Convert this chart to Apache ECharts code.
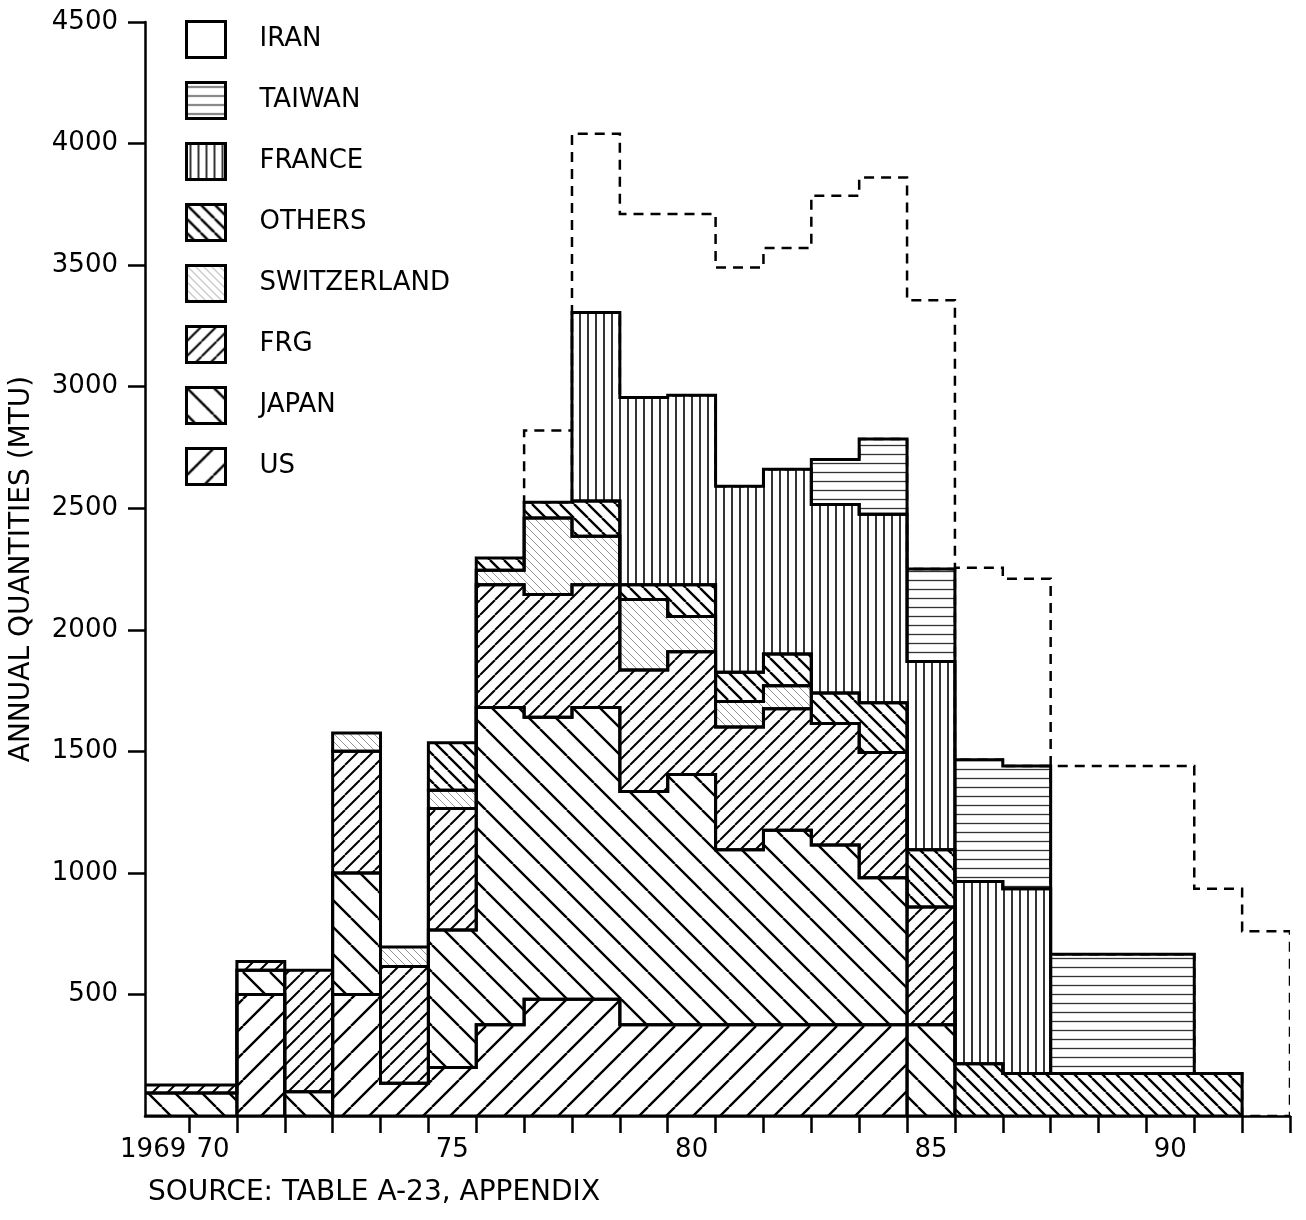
<!DOCTYPE html>
<html>
<head>
<meta charset="utf-8">
<script src="https://cdn.jsdelivr.net/npm/echarts@6/dist/echarts.min.js"></script>
<style>
  html, body { margin: 0; padding: 0; background: #fff; }
  #chart { width: 1306px; height: 1220px; }
</style>
</head>
<body>
<div id="chart"></div>
<script>
// Annual quantities (MTU) by supplier, one step per calendar year
const YEARS = [1969, 1970, 1971, 1972, 1973, 1974, 1975, 1976, 1977, 1978, 1979, 1980,
               1981, 1982, 1983, 1984, 1985, 1986, 1987, 1988, 1989, 1990, 1991, 1992];

const US          = [0, 0, 500, 0, 500, 135, 200, 375, 480, 480, 375, 375, 375, 375, 375, 375, 0, 0, 0, 0, 0, 0, 0, 0];
const JAPAN       = [95, 95, 100, 100, 500, 0, 565, 1305, 1160, 1200, 960, 1030, 720, 800, 740, 605, 375, 0, 0, 0, 0, 0, 0, 0];
const FRG         = [33, 33, 35, 500, 500, 480, 500, 505, 505, 505, 500, 505, 505, 500, 500, 515, 485, 0, 0, 0, 0, 0, 0, 0];
const SWITZERLAND = [0, 0, 0, 0, 75, 80, 75, 60, 315, 200, 290, 145, 105, 95, 0, 0, 0, 0, 0, 0, 0, 0, 0, 0];
const OTHERS      = [0, 0, 0, 0, 0, 0, 195, 50, 65, 145, 60, 130, 120, 130, 125, 205, 235, 215, 175, 175, 175, 175, 175, 0];
const FRANCE      = [0, 0, 0, 0, 0, 0, 0, 0, 0, 775, 770, 780, 765, 760, 775, 775, 775, 750, 760, 0, 0, 0, 0, 0];
const TAIWAN      = [0, 0, 0, 0, 0, 0, 0, 0, 0, 0, 0, 0, 0, 0, 185, 310, 380, 500, 505, 490, 490, 490, 0, 0];
const IRAN        = [0, 0, 0, 0, 0, 0, 0, 0, 295, 735, 755, 745, 900, 910, 1085, 1075, 1105, 790, 770, 775, 775, 775, 760, 760];

const X_TICKS = [1970, 1971, 1972, 1973, 1974, 1975, 1976, 1977, 1978, 1979, 1980, 1981,
                 1982, 1983, 1984, 1985, 1986, 1987, 1988, 1989, 1990, 1991, 1992, 1993];
const X_LABEL_POS = [1969.25, 1970.5, 1975.5, 1980.5, 1985.5, 1990.5];
const Y_TICKS = [500, 1000, 1500, 2000, 2500, 3000, 3500, 4000, 4500];

const FONT = '"DejaVu Sans", "Liberation Sans", sans-serif';

// ---- hatch tiles -------------------------------------------------------
function hatch(w, h, kind, lineW, color) {
  const c = document.createElement('canvas');
  c.width = w; c.height = h;
  const g = c.getContext('2d');
  g.strokeStyle = color;
  g.lineWidth = lineW;
  g.beginPath();
  if (kind === '/') {
    for (let k = -1; k <= 1; k++) { g.moveTo(k * w, h); g.lineTo(k * w + w, 0); }
  } else if (kind === '\\') {
    for (let k = -1; k <= 1; k++) { g.moveTo(k * w, 0); g.lineTo(k * w + w, h); }
  } else if (kind === '|') {
    g.moveTo(w / 2, 0); g.lineTo(w / 2, h);
  } else if (kind === '-') {
    g.moveTo(0, h / 2); g.lineTo(w, h / 2);
  }
  g.stroke();
  return { image: c, repeat: 'repeat' };
}

// stacking order, bottom to top
const LAYERS = [
  { name: 'US',          values: US,          fill: hatch(27, 27, '/', 2.4, '#000') },
  { name: 'JAPAN',       values: JAPAN,       fill: hatch(27, 27, '\\', 2.4, '#000') },
  { name: 'FRG',         values: FRG,         fill: hatch(15, 15, '/', 2.0, '#000') },
  { name: 'SWITZERLAND', values: SWITZERLAND, fill: hatch(8, 8, '\\', 0.9, '#8a8a8a') },
  { name: 'OTHERS',      values: OTHERS,      fill: hatch(14, 14, '\\', 2.4, '#000') },
  { name: 'FRANCE',      values: FRANCE,      fill: hatch(8, 8, '|', 1.7, '#111') },
  { name: 'TAIWAN',      values: TAIWAN,      fill: hatch(9, 9, '-', 1.3, '#333') },
  { name: 'IRAN',        values: IRAN,        fill: '#fff', dashed: true }
];

// cumulative base of each layer for every year
const BASES = LAYERS.map((layer, i) =>
  YEARS.map((y, k) => LAYERS.slice(0, i).reduce((s, l) => s + l.values[k], 0))
);

function makeRenderItem(li) {
  const vals = LAYERS[li].values;
  const base = BASES[li];
  const layer = LAYERS[li];
  return function (params, api) {
    const j = params.dataIndex;
    // one polygon per contiguous run of non-zero years, emitted at the run's first year
    if (!(vals[j] > 0) || (j > 0 && vals[j - 1] > 0)) return null;
    let end = j;
    while (end + 1 < vals.length && vals[end + 1] > 0) end++;
    const pts = [];
    for (let k = j; k <= end; k++) {
      pts.push(api.coord([YEARS[k], base[k]]));
      pts.push(api.coord([YEARS[k] + 1, base[k]]));
    }
    for (let k = end; k >= j; k--) {
      const top = base[k] + vals[k];
      pts.push(api.coord([YEARS[k] + 1, top]));
      pts.push(api.coord([YEARS[k], top]));
    }
    const children = [];
    if (!layer.dashed) {
      children.push({
        type: 'polygon', z2: 0,
        shape: { points: pts },
        style: { fill: layer.fill, stroke: null }
      });
    }
    children.push({
      type: 'polygon', z2: 10,
      shape: { points: pts },
      style: layer.dashed
        ? { fill: null, stroke: '#000', lineWidth: 2.5, lineDash: [10, 7], lineJoin: 'miter' }
        : { fill: null, stroke: '#000', lineWidth: 3, lineJoin: 'miter' }
    });
    return { type: 'group', children: children };
  };
}

const series = LAYERS.map((layer, li) => ({
  name: layer.name,
  type: 'custom',
  clip: true,
  silent: true,
  renderItem: makeRenderItem(li),
  itemStyle: { color: layer.fill },
  encode: { x: 0, y: 1 },
  data: YEARS.map((y, k) => [y, layer.values[k]])
}));

const chart = echarts.init(document.getElementById('chart'), null, { renderer: 'canvas' });
chart.setOption({
  animation: false,
  backgroundColor: '#fff',
  grid: { left: 145, right: 16, top: 22, bottom: 104 },
  legend: {
    orient: 'vertical',
    left: 185, top: 20, padding: 0,
    itemWidth: 39, itemHeight: 36, itemGap: 22,
    selectedMode: false,
    data: ['IRAN', 'TAIWAN', 'FRANCE', 'OTHERS', 'SWITZERLAND', 'FRG', 'JAPAN', 'US']
      .map(n => ({ name: n, icon: 'rect' })),
    itemStyle: { borderColor: '#000', borderWidth: 3 },
    textStyle: { fontFamily: FONT, fontSize: 26, color: '#000', lineHeight: 36, padding: [0, 0, 0, 29] }
  },
  xAxis: {
    type: 'value', min: 1969.08, max: 1993,
    splitLine: { show: false },
    axisLine: { show: true, lineStyle: { color: '#000', width: 2.5 } },
    axisTick: { show: true, customValues: X_TICKS, length: 17, lineStyle: { color: '#000', width: 2.5 } },
    axisLabel: {
      customValues: X_LABEL_POS,
      formatter: v => (v < 1970 ? '1969' : String(Math.floor(v) - 1900)),
      margin: 21, color: '#000', fontFamily: FONT, fontSize: 26
    }
  },
  yAxis: {
    type: 'value', min: 0, max: 4500,
    splitLine: { show: false },
    axisLine: { show: true, lineStyle: { color: '#000', width: 2.5 } },
    axisTick: { show: true, customValues: Y_TICKS, length: 17, lineStyle: { color: '#000', width: 2.5 } },
    axisLabel: {
      customValues: Y_TICKS,
      formatter: v => String(v),
      margin: 27, color: '#000', fontFamily: FONT, fontSize: 26
    },
    name: 'ANNUAL QUANTITIES (MTU)',
    nameLocation: 'middle', nameRotate: 90, nameGap: 109,
    nameTextStyle: { fontFamily: FONT, fontSize: 28, color: '#000' }
  },
  graphic: [{
    type: 'text', left: 148, top: 1179,
    style: { text: 'SOURCE: TABLE A-23, APPENDIX', font: '28px ' + FONT, fill: '#000' }
  }],
  series: series
});
</script>
</body>
</html>
